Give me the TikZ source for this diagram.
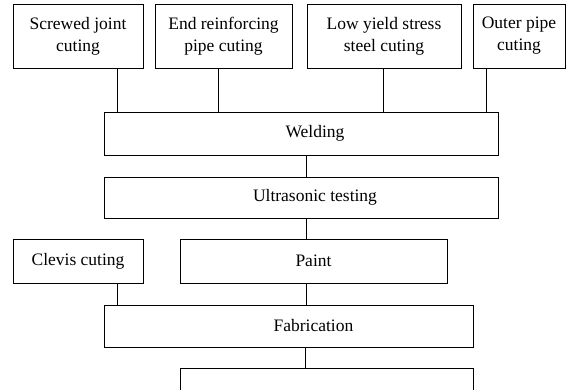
\documentclass[tikz,border=0pt]{standalone}
\usepackage{fontspec}
\setmainfont{Liberation Serif}
\usepackage{tikz}

\begin{document}
\begin{tikzpicture}[x=1pt, y=-1pt, line width=0.9pt,
    every node/.style={font=\fontsize{17.5}{22}\selectfont},
    procbox/.style={draw, rectangle, inner sep=0pt, align=center}]
    \useasboundingbox (0,0) rectangle (574,390);
    \clip (0,0) rectangle (574,390);

    % cutting steps
    \node[procbox, minimum width=130, minimum height=64] (joint) at (78,36) {Screwed joint\\cuting};
    \node[procbox, minimum width=137, minimum height=64] (endpipe) at (223.5,36) {End reinforcing\\pipe cuting};
    \node[procbox, minimum width=154, minimum height=64] (lowyield) at (384,36) {Low yield stress\\steel cuting};
    \node[procbox, minimum width=92, minimum height=64] (outer) at (519,36) {Outer pipe\\cuting};

    % main line
    \node[procbox, minimum width=394, minimum height=43, label={[xshift=14pt]center:Welding}] (weld) at (301,133.5) {};
    \node[procbox, minimum width=394, minimum height=41, label={[xshift=14pt]center:Ultrasonic testing}] (ultra) at (301,197.5) {};
    \node[procbox, minimum width=130, minimum height=44] (clevis) at (78,261) {Clevis cuting};
    \node[procbox, minimum width=267, minimum height=44] (paint) at (313.5,261) {Paint};
    \node[procbox, minimum width=369, minimum height=42, label={[xshift=25pt]center:Fabrication}] (fab) at (288.5,326) {};
    \node[procbox, minimum width=293, minimum height=42] (last) at (326.5,389) {};

    % connectors
    \draw ([xshift=39pt]joint.south) -- ([xshift=39pt]joint.south |- weld.north);
    \draw ([xshift=-5.5pt]endpipe.south) -- ([xshift=-5.5pt]endpipe.south |- weld.north);
    \draw ([xshift=-1pt]lowyield.south) -- ([xshift=-1pt]lowyield.south |- weld.north);
    \draw ([xshift=-33pt]outer.south) -- ([xshift=-33pt]outer.south |- weld.north);
    \draw ([xshift=5pt]weld.south) -- ([xshift=5pt]weld.south |- ultra.north);
    \draw ([xshift=5pt]ultra.south) -- ([xshift=5pt]ultra.south |- paint.north);
    \draw ([xshift=39pt]clevis.south) -- ([xshift=39pt]clevis.south |- fab.north);
    \draw ([xshift=-7.5pt]paint.south) -- ([xshift=-7.5pt]paint.south |- fab.north);
    \draw ([xshift=16.5pt]fab.south) -- ([xshift=16.5pt]fab.south |- last.north);
\end{tikzpicture}
\end{document}
